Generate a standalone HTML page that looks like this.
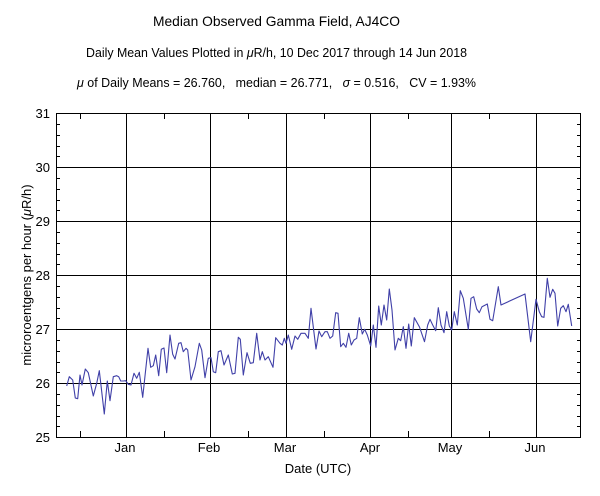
<!DOCTYPE html>
<html>
<head>
<meta charset="utf-8">
<style>
html,body{margin:0;padding:0;background:#fff;}
svg{display:block;}
text{font-family:"Liberation Sans",Arial,sans-serif;fill:#000;}
</style>
</head>
<body>
<svg width="600" height="496" viewBox="0 0 600 496" xmlns="http://www.w3.org/2000/svg">
<rect width="600" height="496" fill="#fff"/>
<!-- titles -->
<text x="153" y="26" font-size="14" textLength="247" lengthAdjust="spacingAndGlyphs">Median Observed Gamma Field, AJ4CO</text>
<text x="86" y="57" font-size="13" textLength="381" lengthAdjust="spacingAndGlyphs">Daily Mean Values Plotted in <tspan font-style="italic">μ</tspan>R/h, 10 Dec 2017 through 14 Jun 2018</text>
<text x="77" y="87" font-size="13" textLength="399" lengthAdjust="spacingAndGlyphs" style="white-space:pre"><tspan font-style="italic">μ</tspan> of Daily Means = 26.760,   median = 26.771,   <tspan font-style="italic">σ</tspan> = 0.516,   CV = 1.93%</text>

<g stroke="#000" stroke-width="1" shape-rendering="crispEdges" fill="none">
<!-- horizontal gridlines -->
<line x1="56" y1="167.5" x2="581" y2="167.5"/>
<line x1="56" y1="221.5" x2="581" y2="221.5"/>
<line x1="56" y1="275.5" x2="581" y2="275.5"/>
<line x1="56" y1="329.5" x2="581" y2="329.5"/>
<line x1="56" y1="383.5" x2="581" y2="383.5"/>
<!-- vertical gridlines -->
<line x1="126.5" y1="113" x2="126.5" y2="437"/>
<line x1="210.5" y1="113" x2="210.5" y2="437"/>
<line x1="286.5" y1="113" x2="286.5" y2="437"/>
<line x1="370.5" y1="113" x2="370.5" y2="437"/>
<line x1="451.5" y1="113" x2="451.5" y2="437"/>
<line x1="536.5" y1="113" x2="536.5" y2="437"/>
<!-- frame -->
<rect x="56.5" y="113.5" width="524" height="324"/>
<!-- top/bottom minor ticks (15th of month) -->
<path d="M80.5 113v6M164.5 113v6M248.5 113v6M324.5 113v6M408.5 113v6M489.5 113v6
         M80.5 437v-6M164.5 437v-6M248.5 437v-6M324.5 437v-6M408.5 437v-6M489.5 437v-6"/>
<!-- y minor ticks left and right -->
<path d="
M56 124.5h4M56 135.5h4M56 146.5h4M56 156.5h4
M56 178.5h4M56 189.5h4M56 200.5h4M56 210.5h4
M56 232.5h4M56 243.5h4M56 254.5h4M56 264.5h4
M56 286.5h4M56 297.5h4M56 308.5h4M56 318.5h4
M56 340.5h4M56 351.5h4M56 362.5h4M56 372.5h4
M56 394.5h4M56 405.5h4M56 416.5h4M56 426.5h4
M581 124.5h-4M581 135.5h-4M581 146.5h-4M581 156.5h-4
M581 178.5h-4M581 189.5h-4M581 200.5h-4M581 210.5h-4
M581 232.5h-4M581 243.5h-4M581 254.5h-4M581 264.5h-4
M581 286.5h-4M581 297.5h-4M581 308.5h-4M581 318.5h-4
M581 340.5h-4M581 351.5h-4M581 362.5h-4M581 372.5h-4
M581 394.5h-4M581 405.5h-4M581 416.5h-4M581 426.5h-4"/>
</g>

<!-- y tick labels -->
<g font-size="13" text-anchor="end">
<text x="50" y="118">31</text>
<text x="50" y="172">30</text>
<text x="50" y="226">29</text>
<text x="50" y="280">28</text>
<text x="50" y="334">27</text>
<text x="50" y="388">26</text>
<text x="50" y="442">25</text>
</g>
<!-- x tick labels -->
<g font-size="13" text-anchor="middle">
<text x="125" y="452">Jan</text>
<text x="209" y="452">Feb</text>
<text x="285" y="452">Mar</text>
<text x="370" y="452">Apr</text>
<text x="450" y="452">May</text>
<text x="535" y="452">Jun</text>
<text x="318" y="473">Date (UTC)</text>
</g>
<text font-size="13" text-anchor="middle" transform="translate(31,275) rotate(-90)">microroentgens per hour (<tspan font-style="italic">μ</tspan>R/h)</text>

<!-- data -->
<polyline fill="none" stroke="#4040a8" stroke-width="1.1" stroke-linejoin="round" points="
66.7,386 69.3,376.7 72.7,380 75.3,398 77.7,398.7 80,375 82,385 85.3,369 88.3,372.7 93.3,396 96.7,383.3 99.3,370.7 104.3,414 107.3,381 110,400.7 113.3,376.7 116.7,375.7 118.7,376.7 120.7,381 123.3,381 125.7,380.7 128.3,384.3 131,385 134,373.3 136.7,378.3 139.3,372.3 142.7,397.3 148,348.3 150.7,367.3 153.3,365.7 155.7,355 158.7,375.7 161.3,349.3 164,348 166.7,372.7 170,335 172.7,354.3 175,359 178.7,343.3 181,342.7 183.3,351.7 186,348.3
187.7,350 191,380 195,366.7 199.3,343.3 201.7,350 205,377.7 208.3,358.3 211,357.7 213.3,371.7 215.7,372.7 218.3,351.7 221,350.7 224,365 228.3,355 232.3,374 235,373.3 238.3,337.3 240.3,339.3 243.3,375 247,352.7 250.3,363.3 253.3,362.7 256.7,333.3 260,360 262.3,351.7 265,360 268.3,356.7 273,367.3 275.7,337.7 280,343.3 282.3,345 284.3,338.3 286,343.3 288.3,335 291.7,349.3 295,336 297.7,339.3 301,333.3 305,333.3 308.3,338.3 311,308.3
316,349 319,331 321.7,336.7 325,331.7 327.3,331.7 330,338.3 332.7,336 335.7,312.7 338,313.3 340.7,346.7 343.3,343.3 346,347.3 348.7,333.3 351.3,345 354,340 356.7,338.3 359.3,317.7 362.3,334 364.7,329.3 367.3,335 370.7,346 373.3,325 376,347.3 378.7,306 381.3,325 384,305 386.7,320 389.3,289 392,310 395,350 398.3,338.3 400.7,340.7 403.3,326.7 406,348.3 408.7,324 411.3,346 414.3,317.7 419.5,327 424.5,341.7 427.7,325 430,319.3 432.7,325 435.7,330.7 438.3,307.7 441,325 444,332.7 446.7,311.7 449.3,326 451.7,330 454.3,311.7 457.3,325 460.3,290.7 463.3,298.3 468.3,329.3 471,298.3 473.7,296.7 476.7,309 479.3,312.7 482,306.7 487.3,304 490,319.3 492.7,320.7 498.3,286.7 501,305 525,294 530.7,341.7 536,299.3 539.3,311.7 541.7,316.7 544,317.3 547.3,278.3 550,297.3 552.7,289.3 555,293.3 557.7,326 560.7,308.3 563.3,305.7 566,311.7 568.3,304.3 571.7,326"/>
</svg>
</body>
</html>
